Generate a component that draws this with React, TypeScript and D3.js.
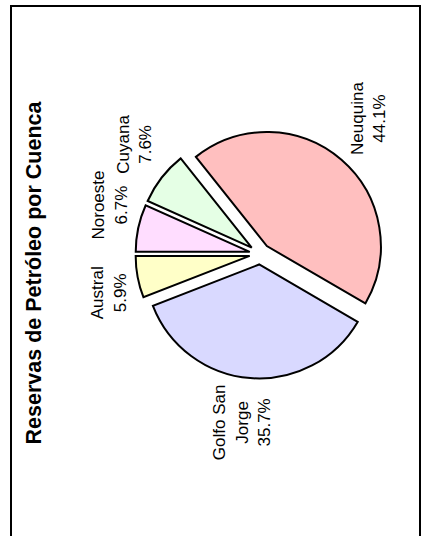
import React, { useMemo } from "react";
import * as d3 from "d3";

const categories = ["Noroeste", "Cuyana", "Neuquina", "Golfo San Jorge", "Austral"];
const values = [6.7, 7.6, 44.1, 35.7, 5.9];
const labelLines = [["Noroeste", "6.7%"], ["Cuyana", "7.6%"], ["Neuquina", "44.1%"], ["Golfo San", "Jorge", "35.7%"], ["Austral", "5.9%"]];
const colors = ["#FFDDFF", "#E5FFE5", "#FFBFBF", "#D9D9FF", "#FFFFC8"];
const title = "Reservas de Petróleo por Cuenca";

const W = 426;
const H = 536;
const FONT = "'Liberation Sans', Arial, Helvetica, sans-serif";

export default function App() {
  // unrotated frame: width H (536), height W (426); mapped to screen via rotate(-90)
  const cx = 282;
  const cy = 260;
  const r = 114;
  const explode = 10.5;
  const labelR = 131;
  const fontSize = 17;
  const lineH = 22.5;

  const arcs = useMemo(() => d3.pie<number>().sort(null).value((d) => d)(values), []);
  const arcGen = d3.arc<d3.PieArcDatum<number>>().innerRadius(0).outerRadius(r);

  const measure = useMemo(() => {
    const c = document.createElement("canvas").getContext("2d");
    return (t: string) => {
      if (!c) return t.length * fontSize * 0.55;
      c.font = `${fontSize}px ${FONT}`;
      return c.measureText(t).width;
    };
  }, []);

  const clamp = (v: number) => Math.max(-1, Math.min(1, v));

  return (
    <svg width={W} height={H} style={{ position: "absolute", left: 0, top: 0, background: "#fff" }}>
      <rect x={11} y={6} width={409} height={540} fill="#fff" stroke="#000" strokeWidth={2} />
      <g transform={`translate(0, ${H}) rotate(-90)`}>
        <text x={263} y={34} textAnchor="middle" dominantBaseline="central" fontFamily={FONT} fontWeight="bold" fontSize={21.5} fill="#000">
          {title}
        </text>
        {arcs.map((a, i) => {
          const m = (a.startAngle + a.endAngle) / 2;
          const dx = Math.sin(m);
          const dy = -Math.cos(m);
          return (
            <path
              key={categories[i]}
              d={arcGen(a) || ""}
              transform={`translate(${cx + dx * explode}, ${cy + dy * explode})`}
              fill={colors[i]}
              stroke="#000"
              strokeWidth={2}
              strokeLinejoin="miter"
            />
          );
        })}
        {arcs.map((a, i) => {
          const m = (a.startAngle + a.endAngle) / 2;
          const dx = Math.sin(m);
          const dy = -Math.cos(m);
          const lines = labelLines[i];
          const w = Math.max(...lines.map(measure));
          const h = lines.length * lineH;
          const bx = cx + labelR * dx + (w / 2) * clamp(3 * dx);
          const by = cy + labelR * dy + (h / 2) * clamp(3 * dy);
          return (
            <text key={"l" + i} fontFamily={FONT} fontSize={fontSize} textAnchor="middle" dominantBaseline="central" fill="#000">
              {lines.map((t, j) => (
                <tspan key={j} x={bx} y={by - h / 2 + lineH / 2 + j * lineH}>
                  {t}
                </tspan>
              ))}
            </text>
          );
        })}
      </g>
    </svg>
  );
}
